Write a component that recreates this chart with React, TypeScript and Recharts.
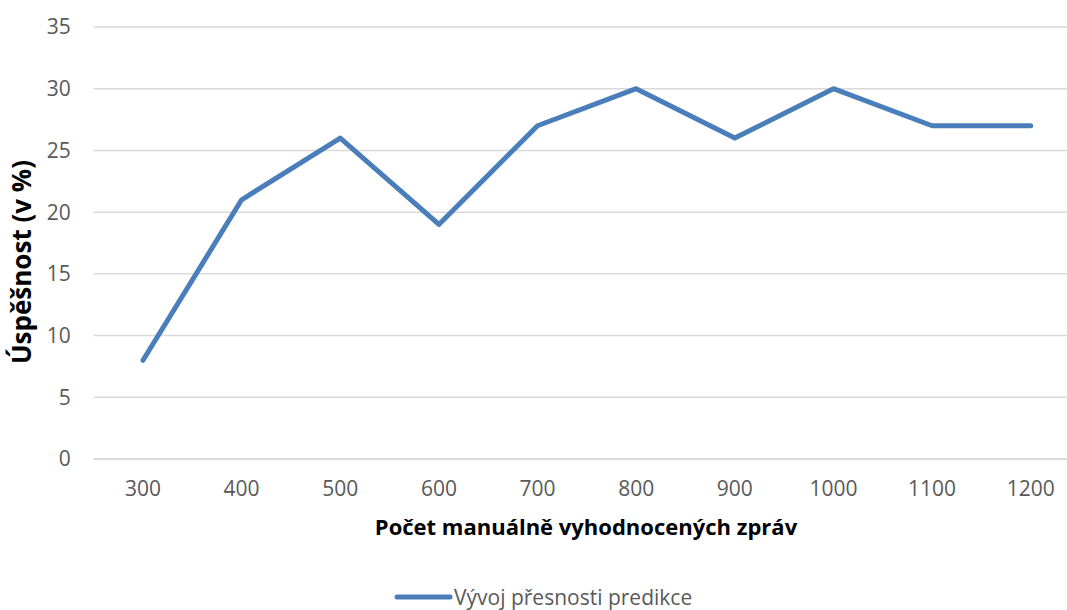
import React from 'react';
import { LineChart, Line, XAxis, YAxis, CartesianGrid } from 'recharts';

const categories = ['300', '400', '500', '600', '700', '800', '900', '1000', '1100', '1200'];
const accuracy = [8, 21, 26, 19, 27, 30, 26, 30, 27, 27];
const yTicks = [0, 5, 10, 15, 20, 25, 30, 35];
const seriesName = 'Vývoj přesnosti predikce';
const xTitle = 'Počet manuálně vyhodnocených zpráv';
const yTitle = 'Úspěšnost (v %)';

const data = categories.map((c, i) => ({ cat: c, value: accuracy[i] }));

const FONT = '"Open Sans", sans-serif';
const BLUE = '#4a7ebb';

export default function App() {
  return (
    <div style={{ position: 'absolute', left: 0, top: 0, width: 1067, height: 610, overflow: 'hidden', background: '#fff' }}>
      <LineChart width={1080} height={610} data={data} margin={{ top: 27, right: 0, bottom: 121, left: 0 }}>
        <CartesianGrid vertical={false} stroke="#d9d9d9" strokeWidth={1.5} />
        <XAxis
          dataKey="cat"
          height={30}
          padding={{ left: 49.3, right: 49.3 }}
          axisLine={{ stroke: '#d9d9d9', strokeWidth: 1.5 }}
          tickLine={false}
          tickSize={0}
          tickMargin={22}
          interval={0}
          tick={{ fill: '#595959', fontSize: 21, fontFamily: FONT }}
          label={{
            content: () => (
              <text x={586} y={535} textAnchor="middle" fontFamily={FONT} fontWeight={700} fontSize={22} fill="#000">
                {xTitle}
              </text>
            ),
          }}
        />
        <YAxis
          width={93.7}
          domain={[0, 35]}
          ticks={yTicks}
          axisLine={false}
          tickLine={false}
          tickSize={0}
          tickMargin={23}
          tick={{ fill: '#595959', fontSize: 21, fontFamily: FONT }}
          label={{
            content: () => (
              <text x={31} y={262} transform="rotate(-90 31 262)" textAnchor="middle" fontFamily={FONT} fontWeight={700} fontSize={26} fill="#000">
                {yTitle}
              </text>
            ),
          }}
        />
        <Line
          type="linear"
          dataKey="value"
          name={seriesName}
          stroke={BLUE}
          strokeWidth={5}
          strokeLinecap="round"
          strokeLinejoin="round"
          dot={false}
          activeDot={false}
          isAnimationActive={false}
        />
      </LineChart>
      <div style={{ position: 'absolute', left: 393, top: 585, display: 'flex', alignItems: 'center', fontFamily: FONT, fontSize: 21, lineHeight: '24px', color: '#595959', whiteSpace: 'nowrap' }}>
        <svg width={60} height={10} style={{ display: 'block' }}>
          <line x1={4} y1={5} x2={57} y2={5} stroke={BLUE} strokeWidth={5} strokeLinecap="round" />
        </svg>
        <span style={{ marginLeft: 1 }}>{seriesName}</span>
      </div>
    </div>
  );
}
